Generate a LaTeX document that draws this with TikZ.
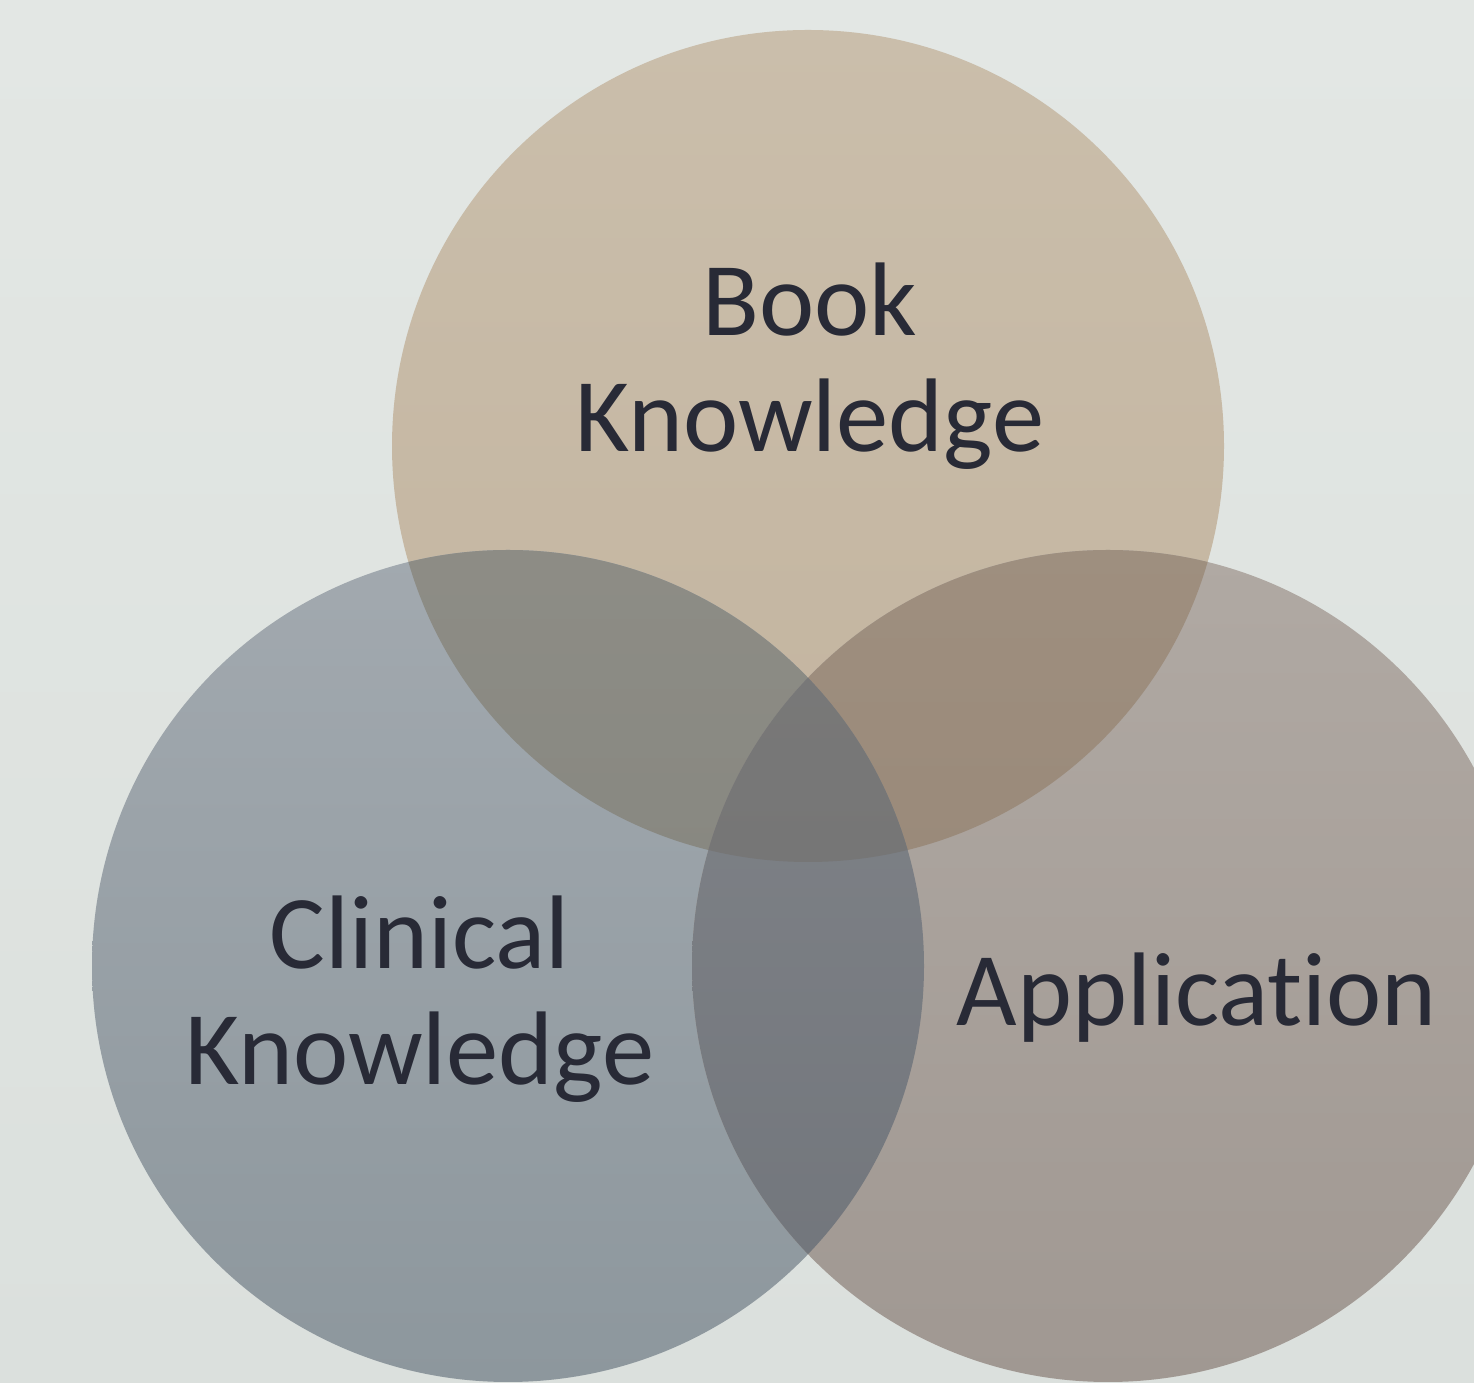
\documentclass[tikz,border=0pt]{standalone}
\usepackage{fontspec}
\setmainfont{Carlito}[Ligatures=NoCommon]
\definecolor{inkdark}{RGB}{40,42,54}
\begin{document}
\begin{tikzpicture}[x=1bp,y=1bp,
  label/.style={text=inkdark,align=center,inner sep=0pt,
    font=\fontsize{105}{117}\selectfont}]
  % canvas
  \useasboundingbox (0,0) rectangle (1474,1383);
  \shade[top color={rgb,255:red,227;green,231;blue,228},
         bottom color={rgb,255:red,219;green,224;blue,221}]
    (0,0) rectangle (1474,1383);

  % circle outlines used for fills and clipping
  \def\topc{(808,937) circle[radius=416]}
  \def\leftc{(508,417) circle[radius=416]}
  \def\rightc{(1108,417) circle[radius=416]}

  \begin{scope}
    \clip (0,0) rectangle (1474,1383);
    % single circles
    \shade[top color={rgb,255:red,202;green,190;blue,171},
           bottom color={rgb,255:red,195;green,180;blue,159}] \topc;
    \shade[top color={rgb,255:red,162;green,169;blue,175},
           bottom color={rgb,255:red,141;green,151;blue,157}] \leftc;
    \shade[top color={rgb,255:red,176;green,169;blue,163},
           bottom color={rgb,255:red,160;green,152;blue,146}] \rightc;
    % book / clinical overlap
    \begin{scope}
      \clip \leftc;
      \shade[top color={rgb,255:red,150;green,148;blue,141},
             bottom color={rgb,255:red,136;green,136;blue,129}] \topc;
    \end{scope}
    % book / application overlap
    \begin{scope}
      \clip \rightc;
      \shade[top color={rgb,255:red,166;green,151;blue,135},
             bottom color={rgb,255:red,154;green,138;blue,122}] \topc;
    \end{scope}
    % clinical / application overlap
    \begin{scope}
      \clip \leftc;
      \shade[top color={rgb,255:red,130;green,133;blue,138},
             bottom color={rgb,255:red,112;green,116;blue,122}] \rightc;
    \end{scope}
    % centre, all three
    \begin{scope}
      \clip \leftc;
      \clip \rightc;
      \shade[top color={rgb,255:red,128;green,127;blue,126},
             bottom color={rgb,255:red,118;green,118;blue,118}] \topc;
    \end{scope}
  \end{scope}

  % labels (base anchor sits on the last line)
  \node[label,anchor=base] (book) at (810,931) {Book\\Knowledge};
  \node[label,anchor=base] (clinical) at (420,298) {Clinical\\Knowledge};
  \node[label,anchor=base] (application) at (1197,357) {Applicat\kern0pt ion};
\end{tikzpicture}
\end{document}
